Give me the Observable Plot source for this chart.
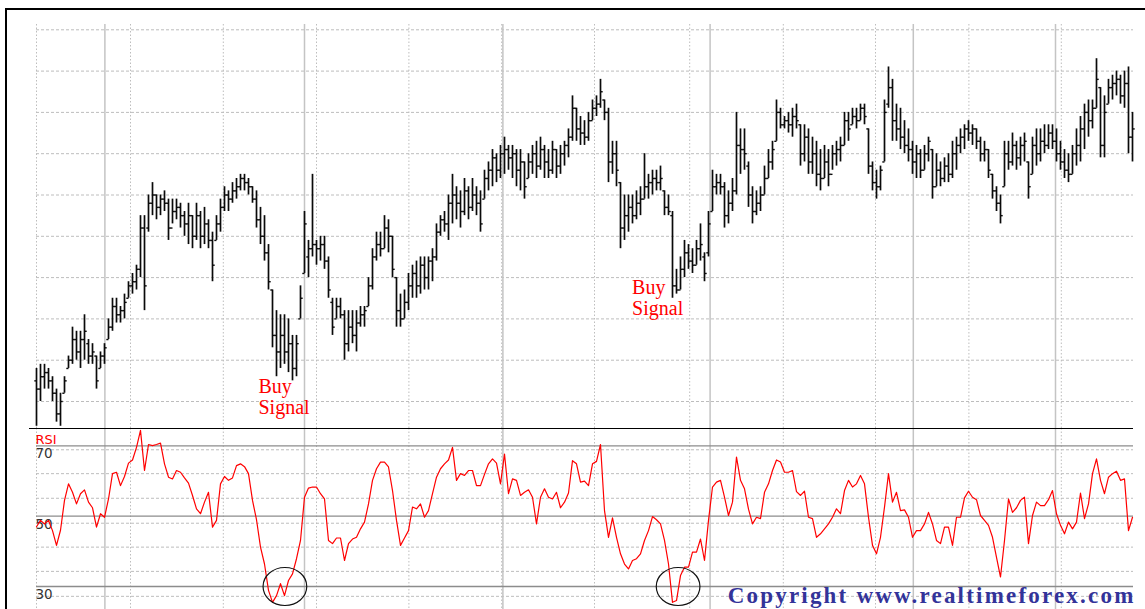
<!DOCTYPE html>
<html><head><meta charset="utf-8">
<script src="https://cdn.jsdelivr.net/npm/d3@7"></script>
<script src="https://cdn.jsdelivr.net/npm/@observablehq/plot@0.6"></script>
<style>
body{margin:0;background:#fff;}
#wrap{position:relative;width:1145px;height:609px;overflow:hidden;background:#fff;}
#top,#bottom{position:absolute;left:0;}
#top{top:0;} #bottom{top:428px;}
.frameL{position:absolute;left:5px;top:8px;width:2px;height:601px;background:#000;}
.frameT{position:absolute;left:5px;top:8px;width:1140px;height:2px;background:#000;}
.sep{position:absolute;left:29px;top:427.5px;width:1104px;height:1.5px;background:#000;}
</style></head><body>
<div id="wrap"><div id="top"></div><div id="bottom"></div><div class="frameL"></div><div class="frameT"></div><div class="sep"></div></div>
<script>
// ---- price bars (one per session) ----
const high = [
18,19,19,18,16,13,12,16,21,28, 27,27,31,25,24,21,22,24,30,35, 35,33,36,39,41,43,55,55,60,63,
60,60,61,59,59,59,58,56,58,55, 58,56,57,54,51,55,59,62,61,63, 64,65,65,64,62,61,57,55,48,37,
32,31,31,30,26,26,38,56,49,65, 49,50,50,45,35,35,35,32,32,32, 32,33,33,40,47,51,51,55,54,50,
40,36,37,41,43,44,45,45,45,47, 53,55,56,60,65,62,61,64,62,64, 62,61,66,68,71,70,72,74,72,72,
71,71,68,70,72,73,74,72,71,73, 71,72,73,76,84,81,79,78,80,83, 84,88,83,81,73,73,63,60,60,60,
61,62,70,65,66,66,67,61,60,56, 42,45,49,48,47,49,53,46,56,66, 65,65,63,61,64,80,76,76,68,62,
61,62,67,71,73,83,81,79,80,81, 82,77,77,76,74,73,71,72,71,72, 73,74,80,80,81,81,82,82,76,68,
66,67,83,91,88,82,81,78,76,73, 72,71,72,74,71,70,68,69,70,73, 74,76,77,78,77,76,74,73,71,65,
62,60,73,73,75,73,74,75,68,74, 76,76,77,77,77,76,73,71,70,72, 76,79,82,83,83,93,86,84,88,89,
90,89,90,91,80];
const low = [
4,10,13,13,10,5,4,12,18,19, 20,18,20,19,19,13,18,19,25,27, 29,29,30,35,36,37,40,32,51,55,
54,55,56,49,53,54,52,50,48,47, 49,47,48,47,39,49,51,56,56,58, 59,61,61,60,58,52,48,44,37,23,
16,18,19,17,15,16,30,41,40,45, 43,44,42,35,26,30,30,20,22,24, 22,28,28,33,37,44,45,47,46,40,
28,28,30,32,35,35,36,37,37,39, 44,50,51,49,53,54,52,55,54,56, 55,51,59,61,62,63,64,65,66,64,
62,61,59,64,65,64,66,64,64,65, 64,65,67,69,73,73,72,72,73,78, 79,81,78,63,65,62,47,49,51,53,
54,55,59,59,60,61,61,55,55,35, 36,37,40,42,41,43,44,39,45,56, 60,60,52,53,56,60,65,66,57,53,
55,56,60,64,66,73,76,76,75,74, 76,67,68,65,65,62,61,64,62,66, 67,68,72,73,77,76,78,77,65,61,
59,61,68,81,73,73,71,70,68,65, 64,64,66,68,59,62,62,63,63,64, 66,70,71,73,72,71,68,68,64,59,
56,53,62,66,67,66,67,68,59,65, 67,68,70,71,71,68,66,64,63,65, 67,68,71,74,76,81,69,69,82,83,
84,82,81,70,68];
const open = [
15,13,16,17,15,12,7,12,18,20, 25,22,25,24,21,21,18,21,25,28, 33,31,32,35,38,39,42,52,52,58,
60,57,59,58,52,56,57,55,53,55, 50,55,50,53,49,49,53,57,60,59, 61,62,64,63,62,59,54,50,46,37,
26,22,26,22,24,18,30,41,45,47, 48,47,48,44,34,30,33,31,24,28, 26,29,31,33,38,45,48,47,52,50,
40,32,30,34,38,41,38,43,40,44, 45,51,54,53,58,60,58,56,61,57, 60,58,59,64,66,69,66,70,71,69,
70,66,68,64,68,70,67,71,68,66, 71,67,70,72,74,81,76,75,74,78, 81,82,83,80,68,70,63,52,55,57,
55,58,59,62,63,64,63,61,57,55, 38,37,42,46,44,43,47,45,46,56, 62,63,62,55,58,61,72,71,67,60,
56,58,60,64,68,73,80,77,78,77, 79,77,70,74,68,70,65,64,68,65, 70,71,72,78,77,79,78,81,76,67,
63,62,68,82,86,78,76,74,72,71, 68,70,66,70,71,62,66,64,67,65, 70,72,74,76,75,76,73,70,71,65,
61,58,62,70,68,72,69,72,68,65, 72,70,73,72,75,73,70,68,66,65, 70,72,76,80,78,81,86,72,82,86,
87,88,84,87,74];
const close = [
13,16,17,15,12,7,10,15,20,25, 22,25,27,21,22,15,21,23,28,33, 31,32,34,38,39,42,52,38,58,60,
57,59,58,52,56,57,55,53,55,50, 55,50,53,49,43,53,57,60,59,61, 62,64,63,62,59,54,50,46,39,26,
22,26,22,24,18,24,35,53,47,48, 47,48,44,37,28,33,31,24,28,26, 29,31,32,38,45,48,47,52,50,42,
32,30,34,38,41,38,43,40,44,45, 51,54,53,58,60,58,56,61,57,60, 58,53,64,66,69,66,70,71,69,70,
66,68,62,68,70,67,71,68,66,71, 67,70,72,74,81,76,75,74,78,81, 82,85,80,68,70,66,52,55,57,55,
58,59,62,63,64,63,64,57,56,38, 37,42,46,44,43,47,48,41,53,62, 63,62,55,58,61,72,71,70,60,56,
58,60,64,68,71,80,77,78,77,79, 78,70,74,68,70,65,64,68,65,70, 71,72,78,76,79,78,81,79,67,63,
62,66,80,86,78,76,74,72,71,68, 70,66,70,73,62,66,64,67,65,70, 72,74,76,75,76,73,70,71,66,61,
58,55,70,68,72,69,72,73,62,72, 70,73,72,75,73,70,68,66,65,70, 72,76,80,78,81,88,72,80,86,87,
88,84,87,74,76];
// ---- RSI (14) per session ----
const rsi = [
47,48.8,47.8,48.8,45.9,41.7,46,54.5,59.2,56.8, 53.5,56.4,57.5,54,52.4,46.9,50.7,49.7,54.9,62.1,
62.5,58.7,61.3,65.1,66,69.6,74.4,63,70.4,70.1, 70.4,70.8,64.9,61.1,60.6,63,62.5,60.9,59.4,55.9,
52.1,50.7,54,56.8,46.9,48.8,59.2,61.3,60.2,60.9, 64.4,64.9,64.1,62.1,54.5,49,41.2,36.4,28.9,25.5,
27.4,30.8,27.4,31.7,33.6,37.9,43.1,55.4,58,58.3, 58.3,56.4,54.9,43.1,42.2,43.8,43.8,37.4,42.2,43.5,
44,46.4,48.3,53.5,60.2,63.5,65.4,65.4,64,57.3, 48.8,41.7,43.8,45.9,52.6,52.1,53.5,49.7,51.6,56.4,
61.1,63.5,64.9,66,69.6,60.2,62.1,61.6,63,63, 58.7,58.7,61.9,64.9,66.3,65.1,59.2,67.7,56.4,60.6,
60.2,55.9,56.8,57.5,55.4,47.8,55.4,57.8,55.4,54.9, 56.8,52.4,54,56.6,65.8,64.9,59.7,60,58.7,64.9,
65.6,70.4,51.6,44,49.5,44,39.3,36.4,35,37.4, 37.9,39.3,43.1,45.9,49.9,49,47.8,43.1,36.4,25.5,
26,33.1,35.5,35.5,39.8,39.8,43.5,37.4,48.8,58.3, 59.7,60.2,55.4,50.2,54,66.8,60.2,57.8,52,47.8,
49.7,49.3,56.8,59.2,63,66,65.4,62.5,62.5,63, 57,55.9,57.1,49.7,49.3,44,45,46.4,47.8,49.7,
52.1,50.7,57.3,60.2,58.3,59.2,61.6,59.2,49.7,41.7, 39.3,44,52.6,62.1,54,56.8,51.6,51.8,49.7,44,
45.9,45.9,47.8,51.1,47.8,43.1,42.2,46.9,46.9,41.7, 49.7,49.7,55.2,57.1,55.4,54.7,50.2,48.8,47.4,44,
38.3,32.7,43.1,54.9,51.1,52.4,54.5,55.4,42.2,50.2, 54,53,53,54.7,57.3,50.7,47.4,45,48.3,46.4,
48.3,56.6,49.3,53.5,62.1,66.3,60.2,56.4,61.1,62.1, 62.8,60.2,60.6,45.9,49.7];

// ---- grids, levels, annotations ----
const priceGrid = [10,20,30,40,50,60,70,80,90,100];
const weekGrid = [0,23.5,46.7,70,93.1,116.3,139.5,163.3,186.7,209.75,233.1,256.2];
const monthGrid = [17.1,67,116.6,168.4,219.2,254.75];
const rsiLevels = [70,50,30];
const rsiGrid = [68.9,62.1,55.1,48.0,41.2,34.3,27.2];
const signals = [{i:55.5, price:15.6, label:"Buy\nSignal"},{i:148.9, price:39.7, label:"Buy\nSignal"}];
const oversold = [{i:62.1, v:30},{i:160.4, v:30}];
const copyright = ["Copyright www.realtimeforex.com"];

const bars = high.map((h,i)=>({i, open:open[i], high:h, low:low[i], close:close[i]}));
const rsiData = rsi.map((v,i)=>({i, v}));

const ellipseSymbol = {
  draw(context, size) {
    const r = Math.sqrt(size/Math.PI), rx = r*1.15, ry = r, k = 0.5523;
    context.moveTo(rx,0);
    context.bezierCurveTo(rx, ry*k, rx*k, ry, 0, ry);
    context.bezierCurveTo(-rx*k, ry, -rx, ry*k, -rx, 0);
    context.bezierCurveTo(-rx, -ry*k, -rx*k, -ry, 0, -ry);
    context.bezierCurveTo(rx*k, -ry, rx, -ry*k, rx, 0);
    context.closePath();
  }
};

const xScale = {domain:[0,274], range:[36,1132], axis:null};
const gridColor = "#bdbdbd";
const barColor = "#0a0a0a";

const topPlot = Plot.plot({
  width:1145, height:428,
  marginLeft:36, marginRight:12, marginTop:24, marginBottom:0,
  x: xScale,
  y: {domain:[10,100], range:[401,29.3], axis:null},
  marks: [
    Plot.ruleY(priceGrid, {stroke:gridColor, strokeDasharray:"3,2"}),
    Plot.ruleX(weekGrid, {stroke:gridColor, strokeDasharray:"1.5,2"}),
    Plot.ruleX(monthGrid, {stroke:"#c4c4c4", strokeWidth:1.5}),
    Plot.ruleX(bars, {x:"i", y1:"low", y2:"high", stroke:barColor, strokeWidth:1.7}),
    Plot.link(bars, {x1:d=>d.i-0.55, x2:"i", y1:"open", y2:"open", stroke:barColor, strokeWidth:1.4}),
    Plot.link(bars, {x1:"i", x2:d=>d.i+0.55, y1:"close", y2:"close", stroke:barColor, strokeWidth:1.4}),
    Plot.text(signals, {x:"i", y:"price", text:"label", fill:"#ff0000", textAnchor:"start", lineAnchor:"top",
      fontFamily:"Liberation Serif", fontSize:20, lineHeight:1.05})
  ]
});

const bottomPlot = Plot.plot({
  width:1145, height:181,
  marginLeft:36, marginRight:12, marginTop:0, marginBottom:0,
  x: xScale,
  y: {domain:[30,70], range:[158,17.4], axis:null},
  marks: [
    Plot.ruleY(rsiGrid, {stroke:gridColor, strokeDasharray:"3,2"}),
    Plot.ruleX(weekGrid, {stroke:gridColor, strokeDasharray:"1.5,2"}),
    Plot.ruleX(monthGrid, {stroke:"#c4c4c4", strokeWidth:1.5}),
    Plot.ruleY(rsiLevels, {stroke:"#8c8c8c", strokeWidth:1.3}),
    Plot.text(rsiLevels, {y:d=>d, text:d=>String(d), frameAnchor:"left", textAnchor:"start", dx:-1, dy:8,
      fontFamily:"DejaVu Sans", fontSize:13.5, fill:"#333"}),
    Plot.text(["RSI"], {frameAnchor:"top-left", textAnchor:"start", lineAnchor:"middle", dx:-1, dy:11,
      fontFamily:"DejaVu Sans", fontSize:13, fill:"#ff0000"}),
    Plot.line(rsiData, {x:"i", y:"v", stroke:"#ff0000", strokeWidth:1.2}),
    Plot.dot(oversold, {x:"i", y:"v", r:19, symbol:ellipseSymbol, fill:"none", stroke:"#111", strokeWidth:1.2}),
    Plot.text(copyright, {frameAnchor:"bottom-right", textAnchor:"end", lineAnchor:"middle", dy:-14, dx:2,
      fontFamily:"Liberation Serif", fontWeight:"bold", fontSize:23, fill:"#333399"})
  ]
});

document.getElementById("top").appendChild(topPlot);
document.getElementById("bottom").appendChild(bottomPlot);
d3.select(bottomPlot).selectAll("text")
  .filter(function(){ return this.textContent.startsWith("Copyright"); })
  .attr("letter-spacing","2.2px");
</script>
</body></html>
